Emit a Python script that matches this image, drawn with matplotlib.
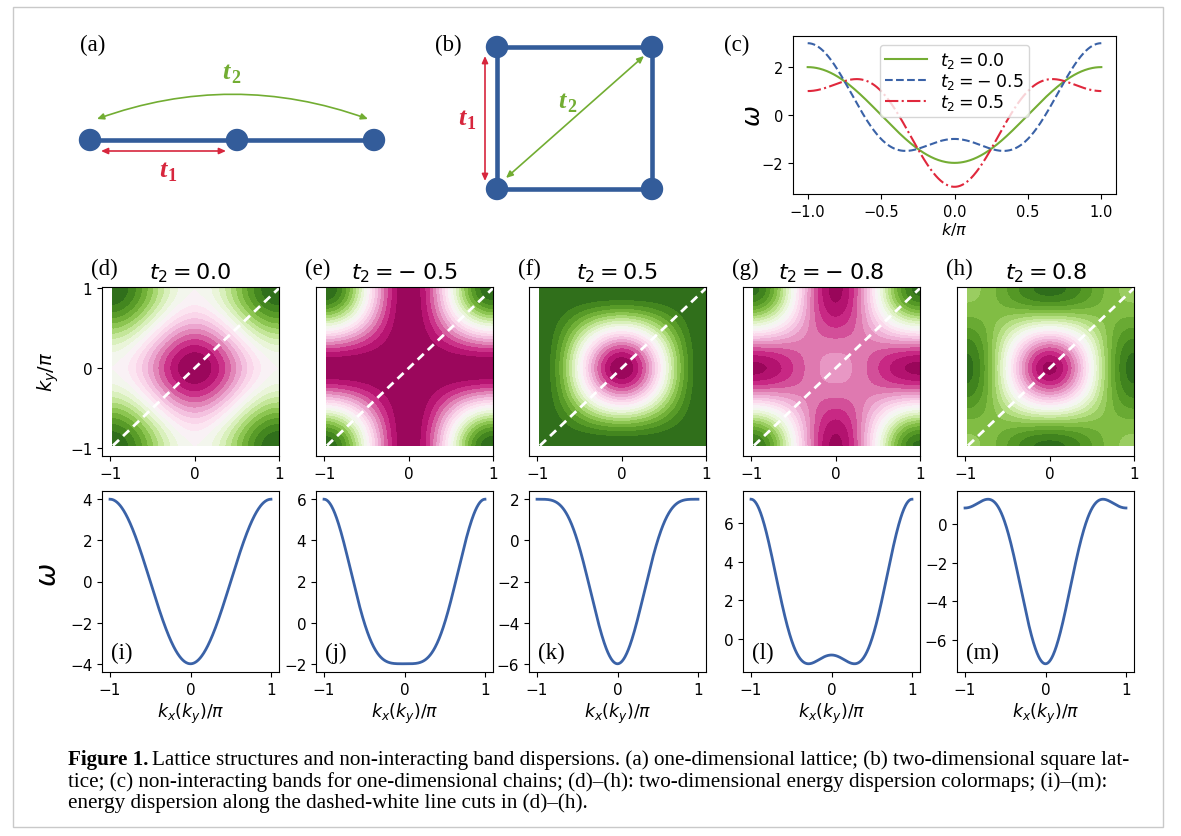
"""Reseau 1D / carre : schemas, bandes 1D et dispersions 2D (d)-(m)."""
import numpy as np
import matplotlib
matplotlib.use("Agg")
import matplotlib.pyplot as plt
from matplotlib.patches import Circle, FancyArrowPatch, Rectangle
from matplotlib.ticker import MultipleLocator

W, H = 1181, 837  # taille finale en pixels (dpi=100)

# --- parametres de saut (t1 fixe a 1) ---
T1 = 1.0
T2_CHAIN = [0.0, -0.5, 0.5]
CHAIN_COLORS = ["#74ad34", "#3a62a7", "#e0283c"]
CHAIN_STYLES = ["-", "--", "-."]

T2_SQUARE = [0.0, -0.5, 0.5, -0.8, 0.8]
MAP_TAGS = ["(d)", "(e)", "(f)", "(g)", "(h)"]
CUT_TAGS = ["(i)", "(j)", "(k)", "(l)", "(m)"]

CHAIN_XTICKS = [-1.0, -0.5, 0.0, 0.5, 1.0]
CHAIN_YTICKS = [-2, 0, 2]
MAP_TICKS = [-1, 0, 1]

CAPTION_HEAD = "Figure 1."
CAPTION_LINES = [
    "Lattice structures and non-interacting band dispersions. (a) one-dimensional "
    "lattice; (b) two-dimensional square lat-",
    "tice; (c) non-interacting bands for one-dimensional chains; (d)\u2013(h): "
    "two-dimensional energy dispersion colormaps; (i)\u2013(m):",
    "energy dispersion along the dashed-white line cuts in (d)\u2013(h).",
]

BLUE = "#335c9a"
RED = "#d7263d"
GREEN = "#72ad32"
SERIF = "Liberation Serif"


def chain_band(k, t2):
    return -2 * T1 * np.cos(k) - 2 * t2 * np.cos(2 * k)


def square_band(kx, ky, t2):
    return (-2 * T1 * (np.cos(kx) + np.cos(ky))
            - 4 * t2 * np.cos(kx) * np.cos(ky))


def t2_label(t2):
    # signe moins espace comme un operateur binaire
    if t2 < 0:
        return rf"$t_2 = -\;{abs(t2)}$"
    return rf"$t_2 = {t2}$"


def px_axes(fig, left, top, right, bottom):
    return fig.add_axes([left / W, 1 - bottom / H,
                         (right - left) / W, (bottom - top) / H])


def tag(ax, x, y, s, **kw):
    ax.text(x, y, s, family=SERIF, fontsize=16.5, **kw)


def hop_label(ax, x, y, sub, color):
    # t en gras italique + indice
    ax.text(x, y, "t", family=SERIF, style="italic", weight="bold",
            fontsize=19, color=color, ha="right", va="baseline")
    ax.text(x + 1, y + 4, sub, family=SERIF, weight="bold",
            fontsize=13, color=color, ha="left", va="baseline")


def arrow(ax, p0, p1, color, rad=0.0):
    ax.add_patch(FancyArrowPatch(
        p0, p1, arrowstyle="<|-|>,head_length=4,head_width=1.8",
        connectionstyle=f"arc3,rad={rad}", color=color, lw=1.2,
        shrinkA=0, shrinkB=0))


fig = plt.figure(figsize=(W / 100, H / 100), dpi=100)

# ---------------- toile de fond : cadre, schemas, legende ----------------
canvas = fig.add_axes([0, 0, 1, 1])
canvas.set_xlim(0, W)
canvas.set_ylim(H, 0)
canvas.axis("off")
canvas.add_patch(Rectangle((13, 8), 1150, 820, fill=False,
                           ec="#c9c9c9", lw=1.0))

# (a) chaine 1D
chain_x = [90, 237, 374]
canvas.plot([chain_x[0], chain_x[-1]], [141, 141], color=BLUE, lw=3.3,
            solid_capstyle="butt")
for x in chain_x:
    canvas.add_patch(Circle((x, 141), 10.5, color=BLUE, zorder=3))
arrow(canvas, (101, 152), (226, 152), RED)
arrow(canvas, (97, 120), (368, 120), GREEN, rad=-0.18)
hop_label(canvas, 167, 177, "1", RED)
hop_label(canvas, 230, 79, "2", GREEN)
tag(canvas, 93, 45, "(a)", ha="center", va="center")

# (b) plaquette carree
sq_x, sq_y = [497, 652], [48, 190]
for y in sq_y:
    canvas.plot(sq_x, [y, y], color=BLUE, lw=3.3, solid_capstyle="butt")
for x in sq_x:
    canvas.plot([x, x], sq_y, color=BLUE, lw=3.3, solid_capstyle="butt")
for x in sq_x:
    for y in sq_y:
        canvas.add_patch(Circle((x, y), 10.5, color=BLUE, zorder=3))
arrow(canvas, (485, 57), (485, 182), RED)
arrow(canvas, (506, 179), (644, 57), GREEN)
hop_label(canvas, 466, 125, "1", RED)
hop_label(canvas, 566, 108, "2", GREEN)
tag(canvas, 448, 45, "(b)", ha="center", va="center")
tag(canvas, 737, 45, "(c)", ha="center", va="center")

# ---------------- (c) bandes 1D ----------------
axc = px_axes(fig, 793, 37, 1116, 195)
k = np.linspace(-1, 1, 401)
for t2, col, ls in zip(T2_CHAIN, CHAIN_COLORS, CHAIN_STYLES):
    axc.plot(k, chain_band(np.pi * k, t2), color=col, ls=ls, lw=1.5,
             label=t2_label(t2))
axc.set_xticks(CHAIN_XTICKS)
axc.set_yticks(CHAIN_YTICKS)
axc.tick_params(labelsize=10.5)
axc.set_xlabel(r"$k/\pi$", fontsize=11.5, labelpad=1)
axc.legend(loc="upper center", fontsize=12.5, handlelength=2.4,
           borderpad=0.3, labelspacing=0.05, handletextpad=0.8)
fig.text(753 / W, 1 - 116 / H, r"$\omega$", rotation=90, fontsize=18,
         ha="center", va="center")

# ---------------- (d)-(h) cartes 2D et (i)-(m) coupes ----------------
lefts = [102, 316, 529, 743, 957]
width = 177
kk = np.linspace(-0.97, 1.0, 300)
KX, KY = np.meshgrid(kk, kk)

for i, (t2, left) in enumerate(zip(T2_SQUARE, lefts)):
    # carte de dispersion
    ax = px_axes(fig, left, 288, left + width, 457)
    w2d = square_band(np.pi * KX, np.pi * KY, t2)
    ax.contourf(KX, KY, w2d, levels=20, cmap="PiYG")
    ax.plot([kk[0], kk[-1]], [kk[0], kk[-1]], color="white", lw=2,
            ls="--", dashes=(3, 2))
    ax.set_xlim(-1.1, 1.0)
    ax.set_ylim(-1.1, 1.015)
    ax.set_xticks(MAP_TICKS)
    if i == 0:
        ax.set_yticks(MAP_TICKS)
    else:
        ax.set_yticks([])
    ax.tick_params(labelsize=11)
    ax.set_title(t2_label(t2), fontsize=16, pad=6)
    tag(ax, -0.06, 1.045, MAP_TAGS[i], transform=ax.transAxes,
        ha="left", va="bottom")

    # coupe le long de la diagonale kx = ky
    axb = px_axes(fig, left, 492, left + width, 673)
    axb.plot(k, square_band(np.pi * k, np.pi * k, t2), color="#3a62a7",
             lw=2)
    axb.set_xticks(MAP_TICKS)
    axb.yaxis.set_major_locator(MultipleLocator(2))
    axb.tick_params(labelsize=11)
    axb.set_xlabel(r"$k_x(k_y)/\pi$", fontsize=12.5, labelpad=3)
    tag(axb, 0.05, 0.05, CUT_TAGS[i], transform=axb.transAxes,
        ha="left", va="bottom")

fig.text(48 / W, 1 - 372 / H, r"$k_y/\pi$", rotation=90, fontsize=14,
         ha="center", va="center")
fig.text(48 / W, 1 - 575 / H, r"$\omega$", rotation=90, fontsize=20,
         ha="center", va="center")

# ---------------- legende de la figure ----------------
renderer = fig.canvas.get_renderer()
size = 13.5
x0 = 68
baselines = [765, 787, 808]
head = fig.text(x0 / W, 1 - baselines[0] / H, CAPTION_HEAD, family=SERIF,
                weight="bold", fontsize=size, va="baseline")
hb = head.get_window_extent(renderer)
first = fig.text((hb.x1 + 5) / W, 1 - baselines[0] / H, CAPTION_LINES[0],
                 family=SERIF, fontsize=size, va="baseline")
# ajuste la taille pour que la premiere ligne finisse a x = 1133
fb = first.get_window_extent(renderer)
scale = (1133 - x0) / (fb.x1 - hb.x0)
size *= scale
head.set_fontsize(size)
hb = head.get_window_extent(renderer)
first.set_fontsize(size)
first.set_x((hb.x1 + 4) / W)
for line, yb in zip(CAPTION_LINES[1:], baselines[1:]):
    fig.text(x0 / W, 1 - yb / H, line, family=SERIF, fontsize=size,
             va="baseline")

fig.savefig("out.png", dpi=100)
